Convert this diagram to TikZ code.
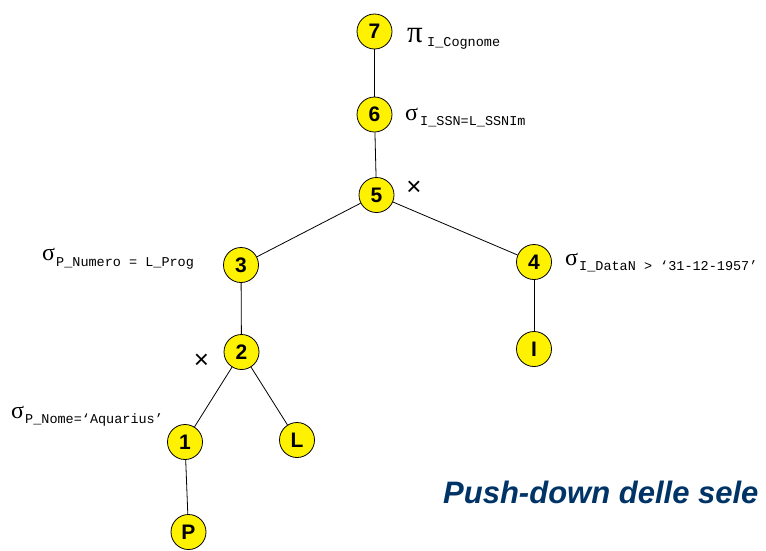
\documentclass[tikz,border=0pt]{standalone}
\usepackage{fontspec}
\setmainfont{Liberation Sans}
\newfontfamily\serifgr{Liberation Serif}
\newfontfamily\monof{Liberation Mono}
\definecolor{titleblue}{HTML}{003366}
\tikzset{
  opnode/.style={circle, draw=black, line width=0.8pt, fill=yellow, minimum size=35pt, inner sep=0pt,
    font=\fontsize{21}{21}\selectfont\bfseries},
  edge/.style={draw=black, line width=0.8pt},
  greek/.style={anchor=base west, inner sep=0pt, font=\serifgr\fontsize{24}{24}\selectfont},
  sub/.style={anchor=base west, inner sep=0pt, font=\monof\fontsize{13.5}{13.5}\selectfont},
  cross/.style={inner sep=0pt, font=\fontsize{26}{26}\selectfont}
}
\begin{document}
\begin{tikzpicture}[x=1pt,y=-1pt]
\useasboundingbox (0,0) rectangle (766,550);
\node[opnode] (n7) at (374.5,31.5) {7};
\node[opnode] (n6) at (374.5,114.5) {6};
\node[opnode] (n5) at (376.5,195) {5};
\node[opnode] (n3) at (241,265) {3};
\node[opnode] (n4) at (534,262) {4};
\node[opnode] (nI) at (534,349) {I};
\node[opnode] (n2) at (241.5,352) {2};
\node[opnode] (n1) at (185,442) {1};
\node[opnode] (nL) at (297,440) {L};
\node[opnode] (nP) at (188.5,532) {P};
\draw[edge] (n7) -- (n6);
\draw[edge] (n6) -- (n5);
\draw[edge] (n5) -- (n3);
\draw[edge] (n5) -- (n4);
\draw[edge] (n3) -- (n2);
\draw[edge] (n4) -- (nI);
\draw[edge] (n2) -- (n1);
\draw[edge] (n2) -- (nL);
\draw[edge] (n1) -- (nP);
% labels
\node[greek, font=\serifgr\fontsize{31}{31}\selectfont] (pi7) at (407,42) {π};
\node[sub] (s7) at (427,46) {I\_Cognome};
\node[greek] (sg6) at (405,120) {σ};
\node[sub] (s6) at (420,125) {I\_SSN=L\_SSNIm};
\node[cross] (x5) at (414,188.5) {×};
\node[greek] (sg3) at (42,260) {σ};
\node[sub] (s3) at (56,266) {P\_Numero = L\_Prog};
\node[greek] (sg4) at (565,265) {σ};
\node[sub] (s4) at (579,270) {I\_DataN > ‘31-12-1957’};
\node[cross] (x2) at (201.5,361.5) {×};
\node[greek] (sg1) at (11,418) {σ};
\node[sub] (s1) at (25,423) {P\_Nome=‘Aquarius’};
\node[anchor=base west, inner sep=0pt, text=titleblue, font=\fontsize{31}{31}\selectfont\bfseries\itshape] (title) at (443,503) {Push-down delle sele};
\end{tikzpicture}
\end{document}
